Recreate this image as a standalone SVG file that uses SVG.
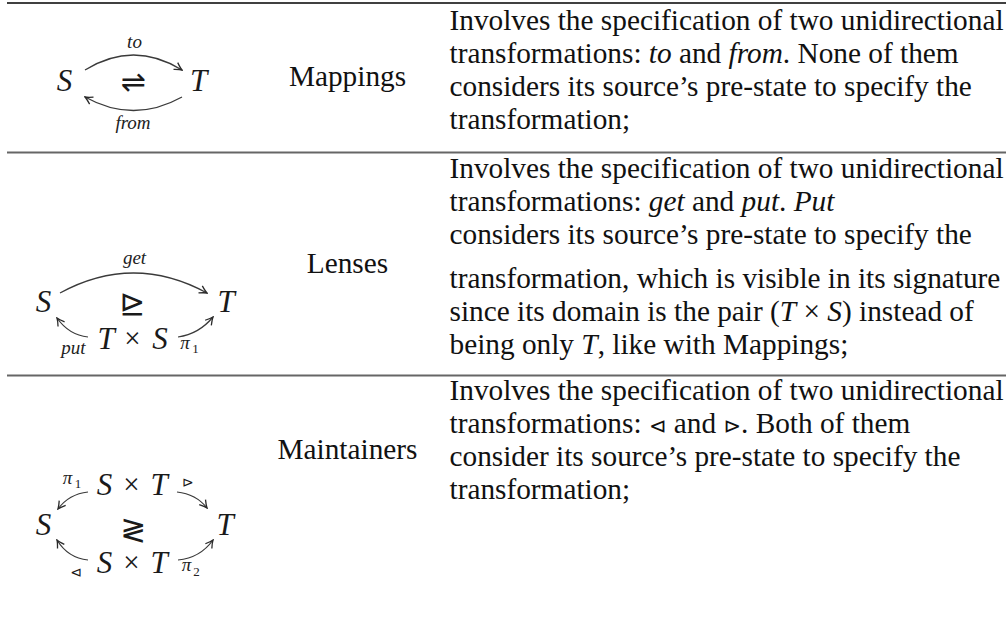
<svg xmlns="http://www.w3.org/2000/svg" width="1006" height="618" viewBox="0 0 1006 618">
  <style>
    .body { font-family: "Liberation Serif", "Times New Roman", serif; font-size: 29.3px; fill: #111; }
    .name { font-family: "Liberation Serif", "Times New Roman", serif; font-size: 29.3px; fill: #111; text-anchor: middle; }
    .m    { font-family: "Liberation Serif", "Times New Roman", serif; font-style: italic; font-size: 31px; fill: #1a1a1a; text-anchor: middle; }
    .x    { font-family: "Liberation Serif", "Times New Roman", serif; font-size: 29px; fill: #1a1a1a; text-anchor: middle; }
    .op   { font-family: "DejaVu Sans", sans-serif; fill: #1a1a1a; text-anchor: middle; }
    .lbl  { font-family: "Liberation Serif", "Times New Roman", serif; font-style: italic; font-size: 19px; fill: #222; text-anchor: middle; }
    .sub  { font-family: "Liberation Serif", "Times New Roman", serif; font-size: 13px; fill: #222; text-anchor: middle; }
    .it   { font-style: italic; }
    .sym  { font-family: "DejaVu Sans", sans-serif; font-size: 21px; }
    .arc  { fill: none; stroke: #3a3a3a; stroke-width: 1.25; marker-end: url(#ah); }
    .rule-top { stroke: #000; stroke-width: 1.3; }
    .rule { stroke: #666; stroke-width: 2; }
  </style>
  <defs>
    <marker id="ah" viewBox="-9 -5 10 10" refX="0" refY="0" markerWidth="10" markerHeight="10" orient="auto" markerUnits="userSpaceOnUse">
      <path d="M-7.5,-4 Q-2.5,-0.8 0,0 Q-2.5,0.8 -7.5,4" fill="none" stroke="#2a2a2a" stroke-width="1.3"/>
    </marker>
  </defs>

  <rect width="1006" height="618" fill="#fff"/>

  <!-- table rules -->
  <g id="rules">
    <line class="rule-top" x1="7" y1="3" x2="1006" y2="3"/>
    <line class="rule" x1="7" y1="152.5" x2="1006" y2="152.5"/>
    <line class="rule" x1="7" y1="375.5" x2="1006" y2="375.5"/>
  </g>

  <!-- row 1: mappings diagram -->
  <g id="mappings-diagram">
    <g id="map-S"><text class="m" x="64.5" y="91">S</text></g>
    <g id="map-T"><text class="m" x="198.5" y="91">T</text></g>
    <g id="map-rel"><text class="op" x="133.5" y="92" font-size="30">⇌</text></g>
    <g id="map-connectors">
      <path class="arc" d="M85,70 Q133.5,40 182,70"/>
      <path class="arc" d="M182,97 Q133.5,124 85,97"/>
      <text class="lbl" x="134.5" y="48">to</text>
      <text class="lbl" x="133" y="129">from</text>
    </g>
  </g>

  <!-- row 2: lenses diagram -->
  <g id="lenses-diagram">
    <g id="len-S"><text class="m" x="43.5" y="312">S</text></g>
    <g id="len-T"><text class="m" x="226" y="312">T</text></g>
    <g id="len-TxS">
      <text class="m" x="106" y="349">T</text>
      <text class="x" x="132.5" y="348">×</text>
      <text class="m" x="160" y="349">S</text>
    </g>
    <g id="len-rel"><text class="op" x="132.5" y="314" font-size="31">⊵</text></g>
    <g id="len-connectors">
      <path class="arc" d="M60,293 Q133.5,253 207,293"/>
      <path class="arc" d="M88,337 Q69,335 57,318"/>
      <path class="arc" d="M178,337 Q199,334 213,317"/>
      <text class="lbl" x="134.5" y="264">get</text>
      <text class="lbl" x="73.5" y="354">put</text>
      <text class="lbl" x="185" y="349">π</text>
      <text class="sub" x="195.5" y="353">1</text>
    </g>
  </g>

  <!-- row 3: maintainers diagram -->
  <g id="maintainers-diagram">
    <g id="mnt-S"><text class="m" x="43.5" y="535">S</text></g>
    <g id="mnt-T"><text class="m" x="225" y="535">T</text></g>
    <g id="mnt-SxT-top">
      <text class="m" x="104.5" y="495">S</text>
      <text class="x" x="131.5" y="494">×</text>
      <text class="m" x="159" y="495">T</text>
    </g>
    <g id="mnt-SxT-bottom">
      <text class="m" x="104.5" y="573">S</text>
      <text class="x" x="131.5" y="572">×</text>
      <text class="m" x="159" y="573">T</text>
    </g>
    <g id="mnt-rel"><text class="op" x="133.5" y="540" font-size="31">≷</text></g>
    <g id="mnt-connectors">
      <path class="arc" d="M88,492 Q69,494 58,509"/>
      <path class="arc" d="M177,492 Q196,494 207,508"/>
      <path class="arc" d="M88,560 Q68,558 57,540"/>
      <path class="arc" d="M178,560 Q200,558 213,540"/>
      <text class="lbl" x="67.5" y="484">π</text>
      <text class="sub" x="78" y="488">1</text>
      <text class="op" x="187.5" y="487" font-size="14">⊳</text>
      <text class="op" x="76" y="577" font-size="14">⊲</text>
      <text class="lbl" x="186.5" y="571">π</text>
      <text class="sub" x="196.5" y="576">2</text>
    </g>
  </g>

  <!-- middle column: names -->
  <g id="names">
    <text class="name" x="347.5" y="86">Mappings</text>
    <text class="name" x="347.5" y="273">Lenses</text>
    <text class="name" x="347.5" y="459">Maintainers</text>
  </g>

  <!-- right column: descriptions -->
  <g id="desc-mappings" class="body">
    <text x="449.5" y="29.5">Involves the specification of two unidirectional</text>
    <text x="449.5" y="62.5">transformations: <tspan class="it">to</tspan> and <tspan class="it">from</tspan>. None of them</text>
    <text x="449.5" y="95.5">considers its source’s pre-state to specify the</text>
    <text x="449.5" y="128.5">transformation;</text>
  </g>
  <g id="desc-lenses" class="body">
    <text x="449.5" y="177.5">Involves the specification of two unidirectional</text>
    <text x="449.5" y="210.5">transformations: <tspan class="it">get</tspan> and <tspan class="it">put</tspan>. <tspan class="it">Put</tspan></text>
    <text x="449.5" y="243.5">considers its source’s pre-state to specify the</text>
    <text x="449.5" y="287.5">transformation, which is visible in its signature</text>
    <text x="449.5" y="320.5">since its domain is the pair (<tspan class="it">T</tspan> × <tspan class="it">S</tspan>) instead of</text>
    <text x="449.5" y="353.5">being only <tspan class="it">T</tspan>, like with Mappings;</text>
  </g>
  <g id="desc-maintainers" class="body">
    <text x="449.5" y="400">Involves the specification of two unidirectional</text>
    <text x="449.5" y="433">transformations: <tspan class="sym">⊲</tspan> and <tspan class="sym">⊳</tspan>. Both of them</text>
    <text x="449.5" y="466">consider its source’s pre-state to specify the</text>
    <text x="449.5" y="499">transformation;</text>
  </g>
</svg>
